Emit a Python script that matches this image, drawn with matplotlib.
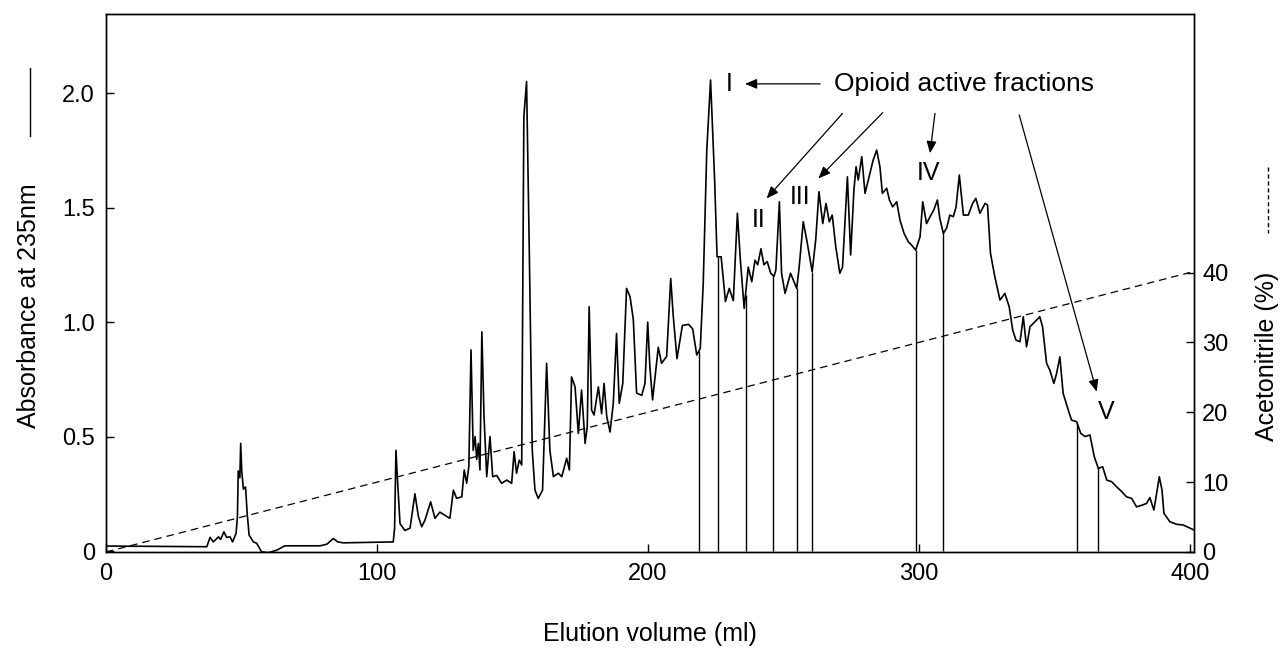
import numpy as np
import matplotlib
matplotlib.use("Agg")
import matplotlib.pyplot as plt
from matplotlib.lines import Line2D

plt.rcParams['font.family'] = ['Liberation Sans', 'DejaVu Sans']

# absorbance trace (ml, A235)
elution_ml = [
    0, 37.2, 38.4, 39.6, 41.5, 42.3, 43.5, 44.5, 45.8, 46.7, 48.0, 48.5, 48.8,
    49.4, 49.7, 50.1, 50.7, 51.5, 52.1, 52.8, 54.4, 55.6, 57.4, 59.9, 63.0,
    66.0, 79.0, 81.5, 83.9, 85.5, 87.6, 106.0, 106.5, 107.0, 107.5, 108.5,
    110.3, 112.2, 114.0, 115.3, 116.5, 117.7, 119.8, 121.4, 123.2, 126.9,
    128.2, 129.4, 131.3, 132.2, 133.1, 133.9, 134.7, 135.5, 136.2, 136.8,
    137.4, 138.0, 138.7, 139.5, 140.5, 141.7, 142.7, 144.2, 146.0, 147.9,
    149.7, 150.6, 151.5, 152.5, 153.4, 154.2, 155.2, 156.2, 157.3, 158.3,
    159.5, 161.1, 162.6, 163.8, 165.1, 166.9, 168.2, 170.0, 171.0, 171.8,
    173.1, 174.3, 175.5, 176.8, 177.6, 178.3, 179.2, 180.1, 181.7, 182.9,
    183.8, 184.8, 186.0, 187.2, 188.4, 189.4, 190.7, 192.1, 193.4, 194.6,
    195.8, 197.7, 198.9, 199.9, 200.7, 201.7, 203.0, 203.8, 205.0, 206.9,
    208.4, 209.3, 210.7, 212.7, 215.0, 216.5, 218.0, 219.3, 220.4, 221.7,
    223.1, 224.6, 225.5, 227.0, 228.6, 230.0, 231.5, 233.0, 234.1, 235.5,
    237.0, 238.3, 239.5, 240.5, 241.7, 242.8, 244.0, 245.3, 246.5, 247.2,
    248.5, 249.3, 250.6, 252.6, 254.9, 255.8, 257.3, 258.6, 260.6, 261.9,
    263.1, 264.5, 265.7, 266.9, 268.0, 269.3, 270.8, 271.8, 273.6, 274.8,
    276.0, 276.8, 277.6, 278.9, 280.1, 281.9, 283.1, 284.4, 285.6, 286.5,
    288.1, 289.1, 290.3, 291.8, 293.0, 294.5, 296.1, 297.3, 298.8, 300.4,
    301.4, 302.8, 304.1, 305.5, 306.8, 307.7, 309.0, 310.2, 311.4, 312.7,
    313.7, 314.9, 316.4, 318.2, 319.8, 321.0, 322.5, 324.4, 325.3, 326.4,
    328.0, 329.9, 331.7, 333.3, 334.6, 335.8, 337.3, 338.5, 339.7, 341.0,
    342.2, 344.6, 345.6, 347.1, 348.3, 349.8, 350.8, 352.0, 353.2, 355.1,
    356.3, 358.2, 359.7, 361.3, 363.1, 364.7, 366.2, 367.8, 369.3, 371.1,
    373.0, 374.8, 376.6, 378.5, 380.3, 382.2, 384.0, 385.2, 386.7, 387.7,
    388.7, 389.7, 390.4, 392.6, 395.1, 397.5, 401.5,
]
absorbance = [
    0.022, 0.019, 0.06, 0.04, 0.062, 0.051, 0.084, 0.06, 0.062, 0.04, 0.077,
    0.15, 0.35, 0.32, 0.47, 0.35, 0.27, 0.28, 0.165, 0.07, 0.04, 0.034,
    -0.003, -0.007, 0.004, 0.023, 0.023, 0.03, 0.055, 0.04, 0.036, 0.04,
    0.10, 0.44, 0.325, 0.12, 0.09, 0.10, 0.25, 0.15, 0.106, 0.135, 0.215,
    0.143, 0.17, 0.143, 0.266, 0.23, 0.237, 0.354, 0.296, 0.37, 0.878, 0.44,
    0.50, 0.40, 0.47, 0.354, 0.957, 0.586, 0.325, 0.50, 0.325, 0.33, 0.296,
    0.31, 0.296, 0.434, 0.34, 0.397, 0.376, 1.897, 2.05, 1.314, 0.44, 0.266,
    0.23, 0.266, 0.82, 0.44, 0.325, 0.34, 0.325, 0.405, 0.354, 0.76, 0.717,
    0.514, 0.703, 0.47, 0.543, 1.067, 0.616, 0.594, 0.717, 0.60, 0.732,
    0.586, 0.52, 0.645, 0.95, 0.645, 0.732, 1.147, 1.11, 1.01, 0.69, 0.68,
    0.732, 1.0, 0.805, 0.66, 0.805, 0.89, 0.82, 0.85, 1.19, 1.03, 0.84,
    0.985, 0.99, 0.97, 0.856, 0.885, 1.17, 1.75, 2.057, 1.62, 1.285, 1.285,
    1.09, 1.147, 1.093, 1.475, 1.27, 1.06, 1.24, 1.176, 1.27, 1.25, 1.32,
    1.25, 1.264, 1.213, 1.2, 1.227, 1.525, 1.213, 1.125, 1.213, 1.147, 1.24,
    1.438, 1.358, 1.22, 1.358, 1.569, 1.43, 1.518, 1.438, 1.467, 1.329,
    1.213, 1.24, 1.634, 1.293, 1.576, 1.678, 1.62, 1.722, 1.562, 1.65,
    1.707, 1.751, 1.678, 1.562, 1.584, 1.533, 1.503, 1.525, 1.445, 1.387,
    1.35, 1.336, 1.314, 1.372, 1.525, 1.43, 1.46, 1.49, 1.533, 1.453, 1.387,
    1.41, 1.467, 1.46, 1.503, 1.642, 1.467, 1.467, 1.518, 1.54, 1.475,
    1.518, 1.511, 1.30, 1.198, 1.096, 1.125, 1.067, 0.965, 0.921, 0.914,
    1.023, 0.892, 0.98, 0.994, 1.023, 0.98, 0.82, 0.79, 0.732, 0.776, 0.848,
    0.689, 0.616, 0.572, 0.565, 0.514, 0.5, 0.507, 0.412, 0.361, 0.368,
    0.31, 0.303, 0.28, 0.26, 0.237, 0.23, 0.193, 0.20, 0.208, 0.234, 0.179,
    0.252, 0.324, 0.266, 0.165, 0.128, 0.117, 0.114, 0.092,
]

# acetonitrile gradient (ml, %)
gradient_ml = [0, 400]
gradient_pct = [0, 40]

# edges of the collected opioid active fractions I..V (ml)
fraction_edges = [218.8, 226.0, 236.0, 246.0, 254.9, 260.6, 298.8, 309.0, 358.4, 366.2]

fraction_names = ["I", "II", "III", "IV", "V"]

W, H = 1283, 648
fig = plt.figure(figsize=(W / 100, H / 100), dpi=100)
ax = fig.add_axes([106 / W, 1 - 552 / H, (1194 - 106) / W, (552 - 14) / H])

ax.plot(elution_ml, absorbance, color="black", lw=1.2)

tops = np.interp(fraction_edges, elution_ml, absorbance)
ax.vlines(fraction_edges, 0, tops, color="black", lw=1.0)

ax.set_xlim(0, 401.5)
ax.set_ylim(-0.004, 2.345)
ax.set_xticks([0, 100, 200, 300, 400])
ax.set_yticks([0, 0.5, 1.0, 1.5, 2.0])
ax.set_yticklabels(["0", "0.5", "1.0", "1.5", "2.0"])
ax.tick_params(direction="in", length=6, width=1, labelsize=17, pad=8)

ax2 = ax.twinx()
ax2.plot(gradient_ml, gradient_pct, color="black", lw=0.9, dashes=(6, 4))
ax2.set_ylim(0, 77)
ax2.set_yticks([0, 10, 20, 30, 40])
ax2.tick_params(direction="in", length=6, width=1, labelsize=17, pad=6)

for a in (ax, ax2):
    for s in a.spines.values():
        s.set_linewidth(1.0)

# annotations
fs = 18
ax.text(316.6, 2.04, "Opioid active fractions", fontsize=19, ha="center", va="center")
name_pos = [(229.9, 2.04), (240.7, 1.445), (256.3, 1.547), (303.4, 1.649), (369.0, 0.608)]
for name, (x, y) in zip(fraction_names, name_pos):
    ax.text(x, y, name, fontsize=fs, ha="center", va="center")

arrows = [
    ((263.5, 2.04), (235.8, 2.04)),
    ((271.8, 1.911), (243.8, 1.54)),
    ((286.6, 1.914), (262.9, 1.627)),
    ((305.9, 1.911), (304.1, 1.737)),
    ((337.0, 1.904), (365.6, 0.696)),
]
for tail, head in arrows:
    ax.annotate("", xy=head, xytext=tail,
                arrowprops=dict(arrowstyle="-|>,head_length=0.6,head_width=0.25",
                                color="black", lw=0.9, mutation_scale=12,
                                shrinkA=0, shrinkB=0))

# axis titles with line-style keys
fig.text(29 / W, 1 - 306 / H, "Absorbance at 235nm", rotation=90,
         fontsize=18, ha="center", va="center")
fig.add_artist(Line2D([30 / W, 30 / W], [1 - 68 / H, 1 - 136 / H],
                      color="black", lw=1.0, transform=fig.transFigure))
fig.text(1267 / W, 1 - 356 / H, "Acetonitrile (%)", rotation=90,
         fontsize=18, ha="center", va="center")
fig.add_artist(Line2D([1268 / W, 1268 / W], [1 - 167 / H, 1 - 233 / H],
                      color="black", lw=1.0, dashes=(3, 2),
                      transform=fig.transFigure))
fig.text(650 / W, 1 - 634 / H, "Elution volume (ml)", fontsize=18,
         ha="center", va="center")

fig.savefig("out.png", dpi=100)
